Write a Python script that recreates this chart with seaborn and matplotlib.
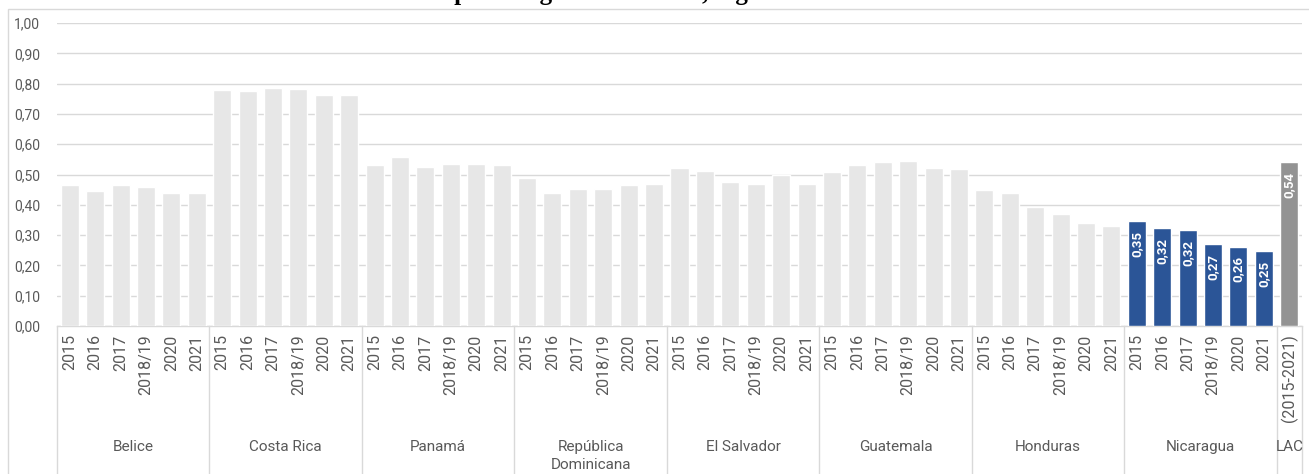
import matplotlib
matplotlib.use("Agg")
import matplotlib.pyplot as plt
from matplotlib.patches import Rectangle
import seaborn as sns
import pandas as pd

# ---- data ----
countries = ["Belice", "Costa Rica", "Panamá", "República\nDominicana",
             "El Salvador", "Guatemala", "Honduras", "Nicaragua"]
years = ["2015", "2016", "2017", "2018/19", "2020", "2021"]

belice = [0.465, 0.447, 0.465, 0.46, 0.438, 0.438]
costa_rica = [0.78, 0.776, 0.786, 0.781, 0.763, 0.763]
panama = [0.53, 0.559, 0.525, 0.536, 0.536, 0.53]
rep_dominicana = [0.489, 0.438, 0.453, 0.453, 0.466, 0.47]
el_salvador = [0.522, 0.512, 0.475, 0.47, 0.50, 0.47]
guatemala = [0.508, 0.53, 0.541, 0.544, 0.522, 0.517]
honduras = [0.448, 0.438, 0.392, 0.368, 0.341, 0.331]
nicaragua = [0.347, 0.322, 0.317, 0.271, 0.262, 0.247]

lac_label = "LAC"
lac_period = "(2015-2021)"
lac_value = 0.54

series = [belice, costa_rica, panama, rep_dominicana,
          el_salvador, guatemala, honduras, nicaragua]

title = "Índice de política gubernamental, según año"

# ---- colours ----
c_grey = "#e7e7e7"
c_blue = "#2b5597"
c_lac = "#939393"
c_text = "#595959"
c_grid = "#d9d9d9"

# ---- long table ----
rows = []
for country, vals in zip(countries, series):
    for yr, v in zip(years, vals):
        color = c_blue if country == "Nicaragua" else c_grey
        rows.append({"key": f"{country}|{yr}", "country": country,
                     "tick": yr, "value": v, "color": color})
rows.append({"key": f"{lac_label}|{lac_period}", "country": lac_label,
             "tick": lac_period, "value": lac_value, "color": c_lac})
df = pd.DataFrame(rows)

sns.set_theme(style="white")
plt.rcParams["font.family"] = ["Roboto", "DejaVu Sans"]

W, H = 1309, 474
fig = plt.figure(figsize=(W / 100, H / 100), dpi=100)
ax = fig.add_axes([57 / W, 1 - 326 / H, (1302 - 57) / W, (326 - 23) / H])

palette = dict(zip(df["key"], df["color"]))
sns.barplot(data=df, x="key", y="value", hue="key", palette=palette,
            legend=False, width=0.71, saturation=1, ax=ax, zorder=3)

n = len(df)
ax.set_xlim(-0.5, n - 0.5)
ax.set_ylim(0, 1.0)
ax.set_yticks([i / 10 for i in range(11)])
ax.set_yticklabels([f"{i / 10:.2f}".replace(".", ",") for i in range(11)],
                   color=c_text, fontsize=10)
ax.yaxis.grid(True, color=c_grid, linewidth=1.0, zorder=0)
ax.set_axisbelow(True)
for s in ["top", "right", "left"]:
    ax.spines[s].set_visible(False)
ax.spines["bottom"].set_color(c_grid)
ax.spines["bottom"].set_linewidth(1.0)
ax.tick_params(axis="y", length=0, pad=12)
ax.tick_params(axis="x", length=0, pad=6)
ax.set_xticks(range(n))
ax.set_xticklabels(df["tick"], rotation=90, color=c_text, fontsize=11.5,
                   va="top", ha="center")
ax.set_xlabel("")
ax.set_ylabel("")

# value labels inside the highlighted bars
for i, r in df.iterrows():
    if r["color"] != c_grey:
        ax.annotate(f"{r['value']:.2f}".replace(".", ","),
                    xy=(i, r["value"]), xytext=(0, -7),
                    textcoords="offset points", rotation=90,
                    ha="center", va="top", color="white",
                    fontsize=9.5, fontweight="bold", zorder=5)

# group separators and group names below the axis
trans = ax.get_xaxis_transform()
bounds = [-0.5]
start = 0
groups = list(countries) + [lac_label]
for g in groups:
    size = (df["country"] == g).sum()
    end = start + size
    bounds.append(end - 0.5)
    label_y = -(447 - 326) / 303
    if "\n" in g:
        label_y = -(456 - 326) / 303
    ax.text((start + end - 1) / 2, label_y,
            g, transform=trans, ha="center", va="center",
            color=c_text, fontsize=11, linespacing=1.3)
    start = end
for b in bounds:
    ax.plot([b, b], [0, -0.6], transform=trans, color=c_grid,
            linewidth=1.0, clip_on=False)

# chart frame
fig.patches.append(Rectangle((8 / W, -0.1), 1.2, 1 - 9 / H + 0.1,
                             transform=fig.transFigure, fill=False,
                             edgecolor=c_grid, linewidth=1.0))

# title sits at the very top edge of the canvas
fig.text(350 / W, 1.0, title, ha="left", va="baseline",
         fontsize=18, fontweight="bold", family="Liberation Serif",
         color="black")

fig.savefig("out.png", dpi=100)
